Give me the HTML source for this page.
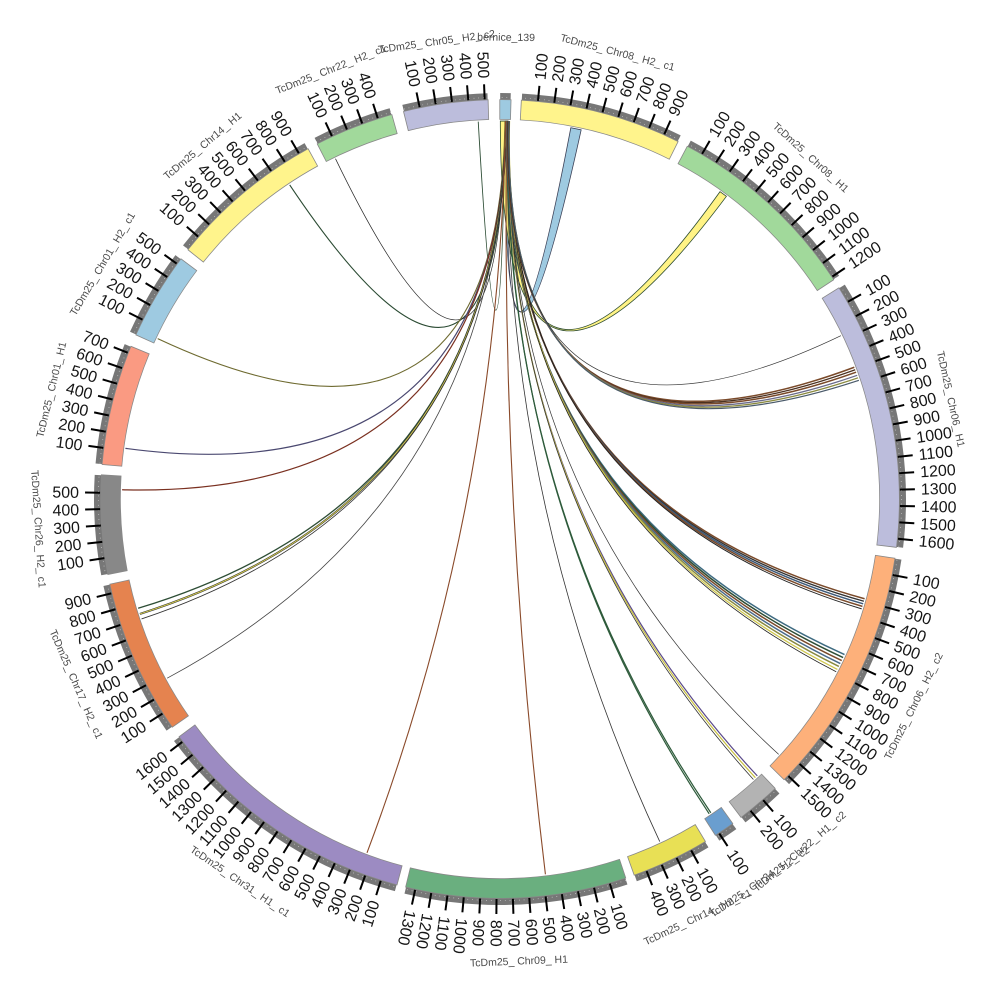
<!DOCTYPE html>
<html><head><meta charset="utf-8"><style>
html,body{margin:0;padding:0;background:#fff;width:1000px;height:1000px;overflow:hidden;}
svg{display:block;}
.tk line{stroke:#000;stroke-width:2;}
.tk text{font-family:"Liberation Sans",sans-serif;font-size:16px;fill:#151515;}
.L text{text-anchor:end;}
.nm{font-family:"Liberation Sans",sans-serif;font-size:10.5px;fill:#4a4a4a;text-anchor:middle;}
.bd circle{fill:none;}
.g{stroke:#777;stroke-width:7;}
.o{stroke:#888;stroke-width:20.5;}
.lk path{fill:none;}
</style></head><body>
<svg width="1000" height="1000" viewBox="0 0 1000 1000" xmlns="http://www.w3.org/2000/svg" overflow="hidden">
<rect width="1000" height="1000" fill="#fff"/>
<g class="bd">
<!-- 1 bernice -->
<circle class="g" cx="500" cy="499" r="402.5" stroke-dasharray="10.54 2518.44" stroke-dashoffset="632.25"/>
<circle class="o" cx="500" cy="499" r="389.5" stroke-dasharray="11.83 2435.47" stroke-dashoffset="612.64"/>
<circle cx="500" cy="499" r="389.5" stroke="#9ecae1" stroke-width="19" stroke-dasharray="10.20 2437.10" stroke-dashoffset="611.83"/>
<!-- 2 Chr08_H2_c1 -->
<circle class="g" cx="500" cy="499" r="402.5" stroke-dasharray="163.68 2365.30" stroke-dashoffset="610.47"/>
<circle class="o" cx="500" cy="499" r="389.5" stroke-dasharray="160.03 2287.27" stroke-dashoffset="591.57"/>
<circle cx="500" cy="499" r="389.5" stroke="#fff48c" stroke-width="19" stroke-dasharray="158.40 2288.90" stroke-dashoffset="590.75"/>
<!-- 3 Chr08_H1 -->
<circle class="g" cx="500" cy="499" r="402.5" stroke-dasharray="200.92 2328.06" stroke-dashoffset="435.55"/>
<circle class="o" cx="500" cy="499" r="389.5" stroke-dasharray="196.05 2251.25" stroke-dashoffset="422.30"/>
<circle cx="500" cy="499" r="389.5" stroke="#a1d99b" stroke-width="19" stroke-dasharray="194.43 2252.87" stroke-dashoffset="421.48"/>
<!-- 4 Chr06_H1 -->
<circle class="g" cx="500" cy="499" r="402.5" stroke-dasharray="272.57 2256.41" stroke-dashoffset="224.10"/>
<circle class="o" cx="500" cy="499" r="389.5" stroke-dasharray="265.40 2181.90" stroke-dashoffset="217.68"/>
<circle cx="500" cy="499" r="389.5" stroke="#bcbddc" stroke-width="19" stroke-dasharray="263.77 2183.53" stroke-dashoffset="216.86"/>
<!-- 5 Chr06_H2_c2 -->
<circle class="g" cx="500" cy="499" r="402.5" stroke-dasharray="252.9 2276.08" stroke-dashoffset="2468.59"/>
<circle class="o" cx="500" cy="499" r="389.5" stroke-dasharray="246.36 2200.94" stroke-dashoffset="2389.67"/>
<circle cx="500" cy="499" r="389.5" stroke="#fdb07a" stroke-width="19" stroke-dasharray="244.73 2202.57" stroke-dashoffset="2388.85"/>
<!-- 6 Chr22_H1_c2 -->
<circle class="g" cx="500" cy="499" r="402.5" stroke-dasharray="44.26 2484.72" stroke-dashoffset="2202.34"/>
<circle class="o" cx="500" cy="499" r="389.5" stroke-dasharray="44.46 2402.84" stroke-dashoffset="2132.02"/>
<circle cx="500" cy="499" r="389.5" stroke="#b3b3b3" stroke-width="19" stroke-dasharray="42.83 2404.47" stroke-dashoffset="2131.20"/>
<!-- 7 small blue -->
<circle class="g" cx="500" cy="499" r="402.5" stroke-dasharray="20.37 2508.61" stroke-dashoffset="2146.84"/>
<circle class="o" cx="500" cy="499" r="389.5" stroke-dasharray="21.35 2425.95" stroke-dashoffset="2078.32"/>
<circle cx="500" cy="499" r="389.5" stroke="#6a9ecf" stroke-width="19" stroke-dasharray="19.71 2427.59" stroke-dashoffset="2077.50"/>
<!-- 8 Chr14_H2 -->
<circle class="g" cx="500" cy="499" r="402.5" stroke-dasharray="78.68 2450.30" stroke-dashoffset="2113.82"/>
<circle class="o" cx="500" cy="499" r="389.5" stroke-dasharray="77.77 2369.53" stroke-dashoffset="2046.37"/>
<circle cx="500" cy="499" r="389.5" stroke="#e8e055" stroke-width="19" stroke-dasharray="76.14 2371.16" stroke-dashoffset="2045.55"/>
<!-- 9 Chr09_H1 -->
<circle class="g" cx="500" cy="499" r="402.5" stroke-dasharray="224.10 2304.88" stroke-dashoffset="2025.31"/>
<circle class="o" cx="500" cy="499" r="389.5" stroke-dasharray="218.49 2228.81" stroke-dashoffset="1960.71"/>
<circle cx="500" cy="499" r="389.5" stroke="#6aaf7f" stroke-width="19" stroke-dasharray="216.86 2230.44" stroke-dashoffset="1959.89"/>
<!-- 10 Chr31 -->
<circle class="g" cx="500" cy="499" r="402.5" stroke-dasharray="269.76 2259.22" stroke-dashoffset="1791.38"/>
<circle class="o" cx="500" cy="499" r="389.5" stroke-dasharray="262.67 2184.63" stroke-dashoffset="1734.33"/>
<circle cx="500" cy="499" r="389.5" stroke="#9c8bc2" stroke-width="19" stroke-dasharray="261.05 2186.25" stroke-dashoffset="1733.52"/>
<!-- 11 Chr17 -->
<circle class="g" cx="500" cy="499" r="402.5" stroke-dasharray="157.36 2371.62" stroke-dashoffset="1508.97"/>
<circle class="o" cx="500" cy="499" r="389.5" stroke-dasharray="153.91 2293.39" stroke-dashoffset="1461.05"/>
<circle cx="500" cy="499" r="389.5" stroke="#e5834f" stroke-width="19" stroke-dasharray="152.28 2295.02" stroke-dashoffset="1460.23"/>
<!-- 12 Chr26 -->
<circle class="g" cx="500" cy="499" r="402.5" stroke-dasharray="100.11 2428.87" stroke-dashoffset="1340.72"/>
<circle class="o" cx="500" cy="499" r="389.5" stroke="#777" stroke-dasharray="98.50 2348.80" stroke-dashoffset="1298.23"/>
<circle cx="500" cy="499" r="389.5" stroke="#888888" stroke-width="19" stroke-dasharray="96.87 2350.43" stroke-dashoffset="1297.42"/>
<!-- 13 Chr01_H1 -->
<circle class="g" cx="500" cy="499" r="402.5" stroke-dasharray="122.24 2406.74" stroke-dashoffset="1229.38"/>
<circle class="o" cx="500" cy="499" r="389.5" stroke-dasharray="119.92 2327.38" stroke-dashoffset="1190.48"/>
<circle cx="500" cy="499" r="389.5" stroke="#fa9a82" stroke-width="19" stroke-dasharray="118.29 2329.01" stroke-dashoffset="1189.67"/>
<!-- 14 Chr01_H2_c1 -->
<circle class="g" cx="500" cy="499" r="402.5" stroke-dasharray="88.52 2440.46" stroke-dashoffset="1093.79"/>
<circle class="o" cx="500" cy="499" r="389.5" stroke-dasharray="87.29 2360.01" stroke-dashoffset="1059.28"/>
<circle cx="500" cy="499" r="389.5" stroke="#9ecae1" stroke-width="19" stroke-dasharray="85.66 2361.64" stroke-dashoffset="1058.46"/>
<!-- 15 Chr14_H1 -->
<circle class="g" cx="500" cy="499" r="402.5" stroke-dasharray="158.41 2370.57" stroke-dashoffset="992.98"/>
<circle class="o" cx="500" cy="499" r="389.5" stroke-dasharray="154.93 2292.37" stroke-dashoffset="961.72"/>
<circle cx="500" cy="499" r="389.5" stroke="#fff48c" stroke-width="19" stroke-dasharray="153.30 2294.00" stroke-dashoffset="960.91"/>
<!-- 16 Chr22_H2_c1 -->
<circle class="g" cx="500" cy="499" r="402.5" stroke-dasharray="80.09 2448.89" stroke-dashoffset="823.33"/>
<circle class="o" cx="500" cy="499" r="389.5" stroke-dasharray="79.13 2368.17" stroke-dashoffset="797.56"/>
<circle cx="500" cy="499" r="389.5" stroke="#a1d99b" stroke-width="19" stroke-dasharray="77.50 2369.80" stroke-dashoffset="796.74"/>
<!-- 17 Chr05_H2_c2 -->
<circle class="g" cx="500" cy="499" r="402.5" stroke-dasharray="85.35 2443.63" stroke-dashoffset="730.25"/>
<circle class="o" cx="500" cy="499" r="389.5" stroke-dasharray="84.23 2363.07" stroke-dashoffset="707.48"/>
<circle cx="500" cy="499" r="389.5" stroke="#bcbddc" stroke-width="19" stroke-dasharray="82.60 2364.70" stroke-dashoffset="706.66"/>
<circle cx="500" cy="499" r="401.6" stroke="#fff" stroke-width="0.7" stroke-opacity="0.8" stroke-dasharray="0.7 4"/>
</g>

<g transform="translate(500,499)">
<!-- ticks right side -->
<g class="tk" transform="rotate(-86.9)">
<g transform="rotate(2.35)"><line x1="400" x2="415"/><text x="421" y="5.5">100</text></g>
<g transform="rotate(4.7)"><line x1="400" x2="415"/><text x="421" y="5.5">200</text></g>
<g transform="rotate(7.05)"><line x1="400" x2="415"/><text x="421" y="5.5">300</text></g>
<g transform="rotate(9.4)"><line x1="400" x2="415"/><text x="421" y="5.5">400</text></g>
<g transform="rotate(11.75)"><line x1="400" x2="415"/><text x="421" y="5.5">500</text></g>
<g transform="rotate(14.1)"><line x1="400" x2="415"/><text x="421" y="5.5">600</text></g>
<g transform="rotate(16.45)"><line x1="400" x2="415"/><text x="421" y="5.5">700</text></g>
<g transform="rotate(18.8)"><line x1="400" x2="415"/><text x="421" y="5.5">800</text></g>
<g transform="rotate(21.15)"><line x1="400" x2="415"/><text x="421" y="5.5">900</text></g>
</g>
<g class="tk" transform="rotate(-62)">
<g transform="rotate(2.35)"><line x1="400" x2="415"/><text x="421" y="5.5">100</text></g>
<g transform="rotate(4.7)"><line x1="400" x2="415"/><text x="421" y="5.5">200</text></g>
<g transform="rotate(7.05)"><line x1="400" x2="415"/><text x="421" y="5.5">300</text></g>
<g transform="rotate(9.4)"><line x1="400" x2="415"/><text x="421" y="5.5">400</text></g>
<g transform="rotate(11.75)"><line x1="400" x2="415"/><text x="421" y="5.5">500</text></g>
<g transform="rotate(14.1)"><line x1="400" x2="415"/><text x="421" y="5.5">600</text></g>
<g transform="rotate(16.45)"><line x1="400" x2="415"/><text x="421" y="5.5">700</text></g>
<g transform="rotate(18.8)"><line x1="400" x2="415"/><text x="421" y="5.5">800</text></g>
<g transform="rotate(21.15)"><line x1="400" x2="415"/><text x="421" y="5.5">900</text></g>
<g transform="rotate(23.5)"><line x1="400" x2="415"/><text x="421" y="5.5">1000</text></g>
<g transform="rotate(25.85)"><line x1="400" x2="415"/><text x="421" y="5.5">1100</text></g>
<g transform="rotate(28.2)"><line x1="400" x2="415"/><text x="421" y="5.5">1200</text></g>
</g>
<g class="tk" transform="rotate(-31.9)">
<g transform="rotate(2.35)"><line x1="400" x2="415"/><text x="421" y="5.5">100</text></g>
<g transform="rotate(4.7)"><line x1="400" x2="415"/><text x="421" y="5.5">200</text></g>
<g transform="rotate(7.05)"><line x1="400" x2="415"/><text x="421" y="5.5">300</text></g>
<g transform="rotate(9.4)"><line x1="400" x2="415"/><text x="421" y="5.5">400</text></g>
<g transform="rotate(11.75)"><line x1="400" x2="415"/><text x="421" y="5.5">500</text></g>
<g transform="rotate(14.1)"><line x1="400" x2="415"/><text x="421" y="5.5">600</text></g>
<g transform="rotate(16.45)"><line x1="400" x2="415"/><text x="421" y="5.5">700</text></g>
<g transform="rotate(18.8)"><line x1="400" x2="415"/><text x="421" y="5.5">800</text></g>
<g transform="rotate(21.15)"><line x1="400" x2="415"/><text x="421" y="5.5">900</text></g>
<g transform="rotate(23.5)"><line x1="400" x2="415"/><text x="421" y="5.5">1000</text></g>
<g transform="rotate(25.85)"><line x1="400" x2="415"/><text x="421" y="5.5">1100</text></g>
<g transform="rotate(28.2)"><line x1="400" x2="415"/><text x="421" y="5.5">1200</text></g>
<g transform="rotate(30.55)"><line x1="400" x2="415"/><text x="421" y="5.5">1300</text></g>
<g transform="rotate(32.9)"><line x1="400" x2="415"/><text x="421" y="5.5">1400</text></g>
<g transform="rotate(35.25)"><line x1="400" x2="415"/><text x="421" y="5.5">1500</text></g>
<g transform="rotate(37.6)"><line x1="400" x2="415"/><text x="421" y="5.5">1600</text></g>
</g>
<g class="tk" transform="rotate(8.6)">
<g transform="rotate(2.35)"><line x1="400" x2="415"/><text x="421" y="5.5">100</text></g>
<g transform="rotate(4.7)"><line x1="400" x2="415"/><text x="421" y="5.5">200</text></g>
<g transform="rotate(7.05)"><line x1="400" x2="415"/><text x="421" y="5.5">300</text></g>
<g transform="rotate(9.4)"><line x1="400" x2="415"/><text x="421" y="5.5">400</text></g>
<g transform="rotate(11.75)"><line x1="400" x2="415"/><text x="421" y="5.5">500</text></g>
<g transform="rotate(14.1)"><line x1="400" x2="415"/><text x="421" y="5.5">600</text></g>
<g transform="rotate(16.45)"><line x1="400" x2="415"/><text x="421" y="5.5">700</text></g>
<g transform="rotate(18.8)"><line x1="400" x2="415"/><text x="421" y="5.5">800</text></g>
<g transform="rotate(21.15)"><line x1="400" x2="415"/><text x="421" y="5.5">900</text></g>
<g transform="rotate(23.5)"><line x1="400" x2="415"/><text x="421" y="5.5">1000</text></g>
<g transform="rotate(25.85)"><line x1="400" x2="415"/><text x="421" y="5.5">1100</text></g>
<g transform="rotate(28.2)"><line x1="400" x2="415"/><text x="421" y="5.5">1200</text></g>
<g transform="rotate(30.55)"><line x1="400" x2="415"/><text x="421" y="5.5">1300</text></g>
<g transform="rotate(32.9)"><line x1="400" x2="415"/><text x="421" y="5.5">1400</text></g>
<g transform="rotate(35.25)"><line x1="400" x2="415"/><text x="421" y="5.5">1500</text></g>
</g>
<g class="tk" transform="rotate(46.5)">
<g transform="rotate(2.35)"><line x1="400" x2="415"/><text x="421" y="5.5">100</text></g>
<g transform="rotate(4.7)"><line x1="400" x2="415"/><text x="421" y="5.5">200</text></g>
</g>
<g class="tk" transform="rotate(54.4)">
<g transform="rotate(2.35)"><line x1="400" x2="415"/><text x="421" y="5.5">100</text></g>
</g>
<g class="tk" transform="rotate(59.1)">
<g transform="rotate(2.35)"><line x1="400" x2="415"/><text x="421" y="5.5">100</text></g>
<g transform="rotate(4.7)"><line x1="400" x2="415"/><text x="421" y="5.5">200</text></g>
<g transform="rotate(7.05)"><line x1="400" x2="415"/><text x="421" y="5.5">300</text></g>
<g transform="rotate(9.4)"><line x1="400" x2="415"/><text x="421" y="5.5">400</text></g>
</g>
<g class="tk" transform="rotate(71.7)">
<g transform="rotate(2.35)"><line x1="400" x2="415"/><text x="421" y="5.5">100</text></g>
<g transform="rotate(4.7)"><line x1="400" x2="415"/><text x="421" y="5.5">200</text></g>
<g transform="rotate(7.05)"><line x1="400" x2="415"/><text x="421" y="5.5">300</text></g>
<g transform="rotate(9.4)"><line x1="400" x2="415"/><text x="421" y="5.5">400</text></g>
<g transform="rotate(11.75)"><line x1="400" x2="415"/><text x="421" y="5.5">500</text></g>
<g transform="rotate(14.1)"><line x1="400" x2="415"/><text x="421" y="5.5">600</text></g>
<g transform="rotate(16.45)"><line x1="400" x2="415"/><text x="421" y="5.5">700</text></g>
<g transform="rotate(18.8)"><line x1="400" x2="415"/><text x="421" y="5.5">800</text></g>
<g transform="rotate(21.15)"><line x1="400" x2="415"/><text x="421" y="5.5">900</text></g>
<g transform="rotate(23.5)"><line x1="400" x2="415"/><text x="421" y="5.5">1000</text></g>
<g transform="rotate(25.85)"><line x1="400" x2="415"/><text x="421" y="5.5">1100</text></g>
<g transform="rotate(28.2)"><line x1="400" x2="415"/><text x="421" y="5.5">1200</text></g>
<g transform="rotate(30.55)"><line x1="400" x2="415"/><text x="421" y="5.5">1300</text></g>
</g>

<!-- ticks left side -->
<g class="tk L" transform="rotate(285)">
<g transform="rotate(2.35)"><line x1="-400" x2="-415"/><text x="-421" y="5.5">100</text></g>
<g transform="rotate(4.7)"><line x1="-400" x2="-415"/><text x="-421" y="5.5">200</text></g>
<g transform="rotate(7.05)"><line x1="-400" x2="-415"/><text x="-421" y="5.5">300</text></g>
<g transform="rotate(9.4)"><line x1="-400" x2="-415"/><text x="-421" y="5.5">400</text></g>
<g transform="rotate(11.75)"><line x1="-400" x2="-415"/><text x="-421" y="5.5">500</text></g>
<g transform="rotate(14.1)"><line x1="-400" x2="-415"/><text x="-421" y="5.5">600</text></g>
<g transform="rotate(16.45)"><line x1="-400" x2="-415"/><text x="-421" y="5.5">700</text></g>
<g transform="rotate(18.8)"><line x1="-400" x2="-415"/><text x="-421" y="5.5">800</text></g>
<g transform="rotate(21.15)"><line x1="-400" x2="-415"/><text x="-421" y="5.5">900</text></g>
<g transform="rotate(23.5)"><line x1="-400" x2="-415"/><text x="-421" y="5.5">1000</text></g>
<g transform="rotate(25.85)"><line x1="-400" x2="-415"/><text x="-421" y="5.5">1100</text></g>
<g transform="rotate(28.2)"><line x1="-400" x2="-415"/><text x="-421" y="5.5">1200</text></g>
<g transform="rotate(30.55)"><line x1="-400" x2="-415"/><text x="-421" y="5.5">1300</text></g>
<g transform="rotate(32.9)"><line x1="-400" x2="-415"/><text x="-421" y="5.5">1400</text></g>
<g transform="rotate(35.25)"><line x1="-400" x2="-415"/><text x="-421" y="5.5">1500</text></g>
<g transform="rotate(37.6)"><line x1="-400" x2="-415"/><text x="-421" y="5.5">1600</text></g>
</g>
<g class="tk L" transform="rotate(325.2)">
<g transform="rotate(2.35)"><line x1="-400" x2="-415"/><text x="-421" y="5.5">100</text></g>
<g transform="rotate(4.7)"><line x1="-400" x2="-415"/><text x="-421" y="5.5">200</text></g>
<g transform="rotate(7.05)"><line x1="-400" x2="-415"/><text x="-421" y="5.5">300</text></g>
<g transform="rotate(9.4)"><line x1="-400" x2="-415"/><text x="-421" y="5.5">400</text></g>
<g transform="rotate(11.75)"><line x1="-400" x2="-415"/><text x="-421" y="5.5">500</text></g>
<g transform="rotate(14.1)"><line x1="-400" x2="-415"/><text x="-421" y="5.5">600</text></g>
<g transform="rotate(16.45)"><line x1="-400" x2="-415"/><text x="-421" y="5.5">700</text></g>
<g transform="rotate(18.8)"><line x1="-400" x2="-415"/><text x="-421" y="5.5">800</text></g>
<g transform="rotate(21.15)"><line x1="-400" x2="-415"/><text x="-421" y="5.5">900</text></g>
</g>
<g class="tk L" transform="rotate(349.15)">
<g transform="rotate(2.35)"><line x1="-400" x2="-415"/><text x="-421" y="5.5">100</text></g>
<g transform="rotate(4.7)"><line x1="-400" x2="-415"/><text x="-421" y="5.5">200</text></g>
<g transform="rotate(7.05)"><line x1="-400" x2="-415"/><text x="-421" y="5.5">300</text></g>
<g transform="rotate(9.4)"><line x1="-400" x2="-415"/><text x="-421" y="5.5">400</text></g>
<g transform="rotate(11.75)"><line x1="-400" x2="-415"/><text x="-421" y="5.5">500</text></g>
</g>
<g class="tk L" transform="rotate(5)">
<g transform="rotate(2.35)"><line x1="-400" x2="-415"/><text x="-421" y="5.5">100</text></g>
<g transform="rotate(4.7)"><line x1="-400" x2="-415"/><text x="-421" y="5.5">200</text></g>
<g transform="rotate(7.05)"><line x1="-400" x2="-415"/><text x="-421" y="5.5">300</text></g>
<g transform="rotate(9.4)"><line x1="-400" x2="-415"/><text x="-421" y="5.5">400</text></g>
<g transform="rotate(11.75)"><line x1="-400" x2="-415"/><text x="-421" y="5.5">500</text></g>
<g transform="rotate(14.1)"><line x1="-400" x2="-415"/><text x="-421" y="5.5">600</text></g>
<g transform="rotate(16.45)"><line x1="-400" x2="-415"/><text x="-421" y="5.5">700</text></g>
</g>
<g class="tk L" transform="rotate(24.3)">
<g transform="rotate(2.35)"><line x1="-400" x2="-415"/><text x="-421" y="5.5">100</text></g>
<g transform="rotate(4.7)"><line x1="-400" x2="-415"/><text x="-421" y="5.5">200</text></g>
<g transform="rotate(7.05)"><line x1="-400" x2="-415"/><text x="-421" y="5.5">300</text></g>
<g transform="rotate(9.4)"><line x1="-400" x2="-415"/><text x="-421" y="5.5">400</text></g>
<g transform="rotate(11.75)"><line x1="-400" x2="-415"/><text x="-421" y="5.5">500</text></g>
</g>
<g class="tk L" transform="rotate(38.65)">
<g transform="rotate(2.35)"><line x1="-400" x2="-415"/><text x="-421" y="5.5">100</text></g>
<g transform="rotate(4.7)"><line x1="-400" x2="-415"/><text x="-421" y="5.5">200</text></g>
<g transform="rotate(7.05)"><line x1="-400" x2="-415"/><text x="-421" y="5.5">300</text></g>
<g transform="rotate(9.4)"><line x1="-400" x2="-415"/><text x="-421" y="5.5">400</text></g>
<g transform="rotate(11.75)"><line x1="-400" x2="-415"/><text x="-421" y="5.5">500</text></g>
<g transform="rotate(14.1)"><line x1="-400" x2="-415"/><text x="-421" y="5.5">600</text></g>
<g transform="rotate(16.45)"><line x1="-400" x2="-415"/><text x="-421" y="5.5">700</text></g>
<g transform="rotate(18.8)"><line x1="-400" x2="-415"/><text x="-421" y="5.5">800</text></g>
<g transform="rotate(21.15)"><line x1="-400" x2="-415"/><text x="-421" y="5.5">900</text></g>
</g>
<g class="tk L" transform="rotate(62.8)">
<g transform="rotate(2.35)"><line x1="-400" x2="-415"/><text x="-421" y="5.5">100</text></g>
<g transform="rotate(4.7)"><line x1="-400" x2="-415"/><text x="-421" y="5.5">200</text></g>
<g transform="rotate(7.05)"><line x1="-400" x2="-415"/><text x="-421" y="5.5">300</text></g>
<g transform="rotate(9.4)"><line x1="-400" x2="-415"/><text x="-421" y="5.5">400</text></g>
</g>
<g class="tk L" transform="rotate(76.05)">
<g transform="rotate(2.35)"><line x1="-400" x2="-415"/><text x="-421" y="5.5">100</text></g>
<g transform="rotate(4.7)"><line x1="-400" x2="-415"/><text x="-421" y="5.5">200</text></g>
<g transform="rotate(7.05)"><line x1="-400" x2="-415"/><text x="-421" y="5.5">300</text></g>
<g transform="rotate(9.4)"><line x1="-400" x2="-415"/><text x="-421" y="5.5">400</text></g>
<g transform="rotate(11.75)"><line x1="-400" x2="-415"/><text x="-421" y="5.5">500</text></g>
</g>

<!-- chromosome names -->
<text class="nm" transform="rotate(0.75)" x="0" y="-458.3">bernice_139</text>
<text class="nm" transform="rotate(14.75)" x="0" y="-458.3">TcDm25_ Chr08_ H2_ c1</text>
<text class="nm" transform="rotate(42.3)" x="0" y="-458.3">TcDm25_ Chr08_ H1</text>
<text class="nm" transform="rotate(77.5)" x="0" y="-458.3">TcDm25_ Chr06_ H1</text>
<text class="nm" transform="rotate(-63.4)" x="0" y="466">TcDm25_ Chr06_ H2_ c2</text>
<text class="nm" transform="rotate(-40.35)" x="0" y="466">TcDm25_ Chr22_ H1_ c2</text>
<text class="nm" transform="rotate(-34.15)" x="0" y="466">TcDm25_ Chr24_ H2_ c2</text>
<text class="nm" transform="rotate(-25.3)" x="0" y="466">TcDm25_ Chr14_ H2_ c1</text>
<text class="nm" transform="rotate(-2.35)" x="0" y="466">TcDm25_ Chr09_ H1</text>
<text class="nm" transform="rotate(34.2)" x="0" y="466">TcDm25_ Chr31_ H1_ c1</text>
<text class="nm" transform="rotate(66.4)" x="0" y="466">TcDm25_ Chr17_ H2_ c1</text>
<text class="nm" transform="rotate(86.3)" x="0" y="466">TcDm25_ Chr26_ H2_ c1</text>
<text class="nm" transform="rotate(283.7)" x="0" y="-458.3">TcDm25_ Chr01_ H1</text>
<text class="nm" transform="rotate(300.6)" x="0" y="-458.3">TcDm25_ Chr01_ H2_ c1</text>
<text class="nm" transform="rotate(319.9)" x="0" y="-458.3">TcDm25_ Chr14_ H1</text>
<text class="nm" transform="rotate(338.5)" x="0" y="-458.3">TcDm25_ Chr22_ H2_ c1</text>
<text class="nm" transform="rotate(352.1)" x="0" y="-458.3">TcDm25_ Chr05_ H2_ c2</text>
</g>

<!-- links -->
<g class="lk">
<path d="M505.61,121.04 Q500,499 581.17,129.82 L570.83,127.69 Q500,499 508.25,121.09 Z" stroke="#3a3f55" stroke-width="0.8" style="fill:#9ecae1"/>
<path d="M500.33,121 Q500,499 726.43,196.32 L720.04,191.66 Q500,499 507.92,121.08 Z" stroke="#2a4a30" stroke-width="0.8" style="fill:#fff170;fill-opacity:0.85"/>
<path d="M478.24,121.63 Q500,499 505,121" stroke="#2d4d35" stroke-width="0.9"/>
<path d="M505.5,121 Q500,499 289.72,184.89" stroke="#2a4a32" stroke-width="1.1"/>
<path d="M505,121 Q500,499 335.48,158.68" stroke="#222" stroke-width="0.7"/>
<path d="M505,121 Q500,499 157.69,338.62" stroke="#6e6a30" stroke-width="1.1"/>
<path d="M506,121 Q500,499 125.41,448.35" stroke="#4a4870" stroke-width="1.2"/>
<path d="M506,121 Q500,499 122.11,489.77" stroke="#7a3020" stroke-width="1.2"/>
<path d="M506,121 Q500,499 138.13,608.25" stroke="#2d4d35" stroke-width="1.3"/>
<path d="M506.5,121 Q500,499 139.89,613.92" stroke="#333" stroke-width="2"/>
<path d="M506.5,121 Q500,499 139.89,613.92" stroke="#d8d050" stroke-width="0.9"/>
<path d="M507,121 Q500,499 141.53,618.94" stroke="#333" stroke-width="0.8"/>
<path d="M506,121 Q500,499 167.18,678.21" stroke="#444" stroke-width="0.8"/>
<path d="M505.5,121 Q500,499 367,852.83" stroke="#8a4a2a" stroke-width="1.1"/>
<path d="M507,121 Q500,499 545.41,874.26" stroke="#8a4a2a" stroke-width="1.1"/>
<path d="M507.5,121 Q500,499 659.75,841.59" stroke="#333" stroke-width="0.8"/>
<path d="M507.5,121 Q500,499 710.8,812.76" stroke="#2d5a3a" stroke-width="1.2"/>
<path d="M508,121 Q500,499 709.18,813.84" stroke="#2d5a3a" stroke-width="1.2"/>
<path d="M508,121 Q500,499 757.31,775.9" stroke="#5a4a8a" stroke-width="1.2"/>
<path d="M508.5,121 Q500,499 755.37,777.69" stroke="#c8c040" stroke-width="1.2"/>
<path d="M509,121 Q500,499 753.42,779.47" stroke="#333" stroke-width="0.8"/>
<path d="M508.5,121 Q500,499 778.69,754.37" stroke="#333" stroke-width="0.7"/>
<path d="M507,121 Q500,499 864.6,598.74" stroke="#7a4a2a" stroke-width="1.5"/>
<path d="M507.5,121 Q500,499 863.9,601.29" stroke="#333" stroke-width="1.3"/>
<path d="M508,121 Q500,499 863.17,603.82" stroke="#3d5a7a" stroke-width="1.5"/>
<path d="M508.5,121 Q500,499 862.43,606.36" stroke="#7a4a2a" stroke-width="1.5"/>
<path d="M509,121 Q500,499 861.67,608.88" stroke="#222" stroke-width="1"/>
<path d="M507,121 Q500,499 844.51,654.55" stroke="#3d6a80" stroke-width="1.5"/>
<path d="M507.5,121 Q500,499 843.14,657.55" stroke="#2d4d35" stroke-width="1.5"/>
<path d="M508,121 Q500,499 841.74,660.54" stroke="#7a4a2a" stroke-width="1.5"/>
<path d="M508.5,121 Q500,499 840.32,663.52" stroke="#4a6a8a" stroke-width="1.5"/>
<path d="M509,121 Q500,499 838.87,666.48" stroke="#8a8a40" stroke-width="1.5"/>
<path d="M509.5,121 Q500,499 837.4,669.43" stroke="#d0c850" stroke-width="1.3"/>
<path d="M509.5,121 Q500,499 836.2,671.78" stroke="#222" stroke-width="0.8"/>
<path d="M507.5,121 Q500,499 854.29,367.24" stroke="#7a4a2a" stroke-width="1.5"/>
<path d="M508,121 Q500,499 855.2,369.72" stroke="#4a3020" stroke-width="1.3"/>
<path d="M508.5,121 Q500,499 856.1,372.2" stroke="#7a4a2a" stroke-width="1.5"/>
<path d="M508.5,121 Q500,499 857.19,375.31" stroke="#6a6a8a" stroke-width="1.3"/>
<path d="M509,121 Q500,499 858.05,377.81" stroke="#8a8a40" stroke-width="1.3"/>
<path d="M509,121 Q500,499 858.88,380.31" stroke="#4a5a6a" stroke-width="1.2"/>
<path d="M508,121 Q500,499 840.89,335.67" stroke="#333" stroke-width="0.7"/>
</g>
</svg>
</body></html>
